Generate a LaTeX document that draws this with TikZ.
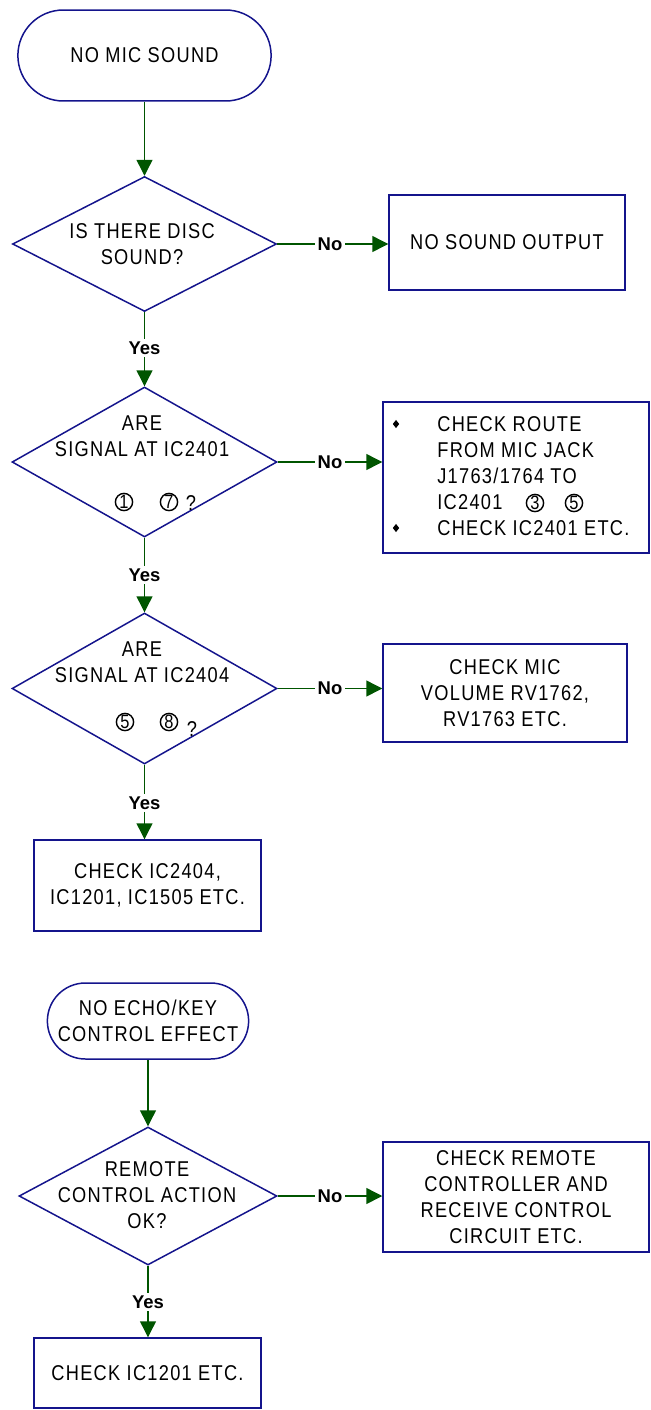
\documentclass[tikz,border=0pt]{standalone}
\usepackage{fontspec}
\setmainfont{Liberation Sans}[FakeStretch=0.85, LetterSpace=6]
\newfontfamily\ansfont{Liberation Sans}
\usepackage{tikz}
\usetikzlibrary{arrows.meta,shapes.geometric,shapes.misc}
\definecolor{flowblue}{RGB}{20,20,140}
\definecolor{flowgreen}{RGB}{0,85,0}
\newcommand\flowfont{\fontsize{12.2}{14.7}\selectfont}

\begin{document}
\begin{tikzpicture}[x=0.02cm,y=0.02cm,
  term/.style={rounded rectangle, draw=flowblue, line width=0.85pt, font=\flowfont, align=center},
  decision/.style={diamond, draw=flowblue, line width=0.85pt, inner sep=0pt},
  action/.style={rectangle, draw=flowblue, line width=0.85pt, font=\flowfont, align=center},
  txt/.style={font=\flowfont, align=center, inner sep=0pt},
  ans/.style={font=\ansfont\bfseries\fontsize{10.5}{12}\selectfont, inner sep=1.5pt},
  cnum/.style={circle, draw, line width=0.8pt, inner sep=0pt, minimum size=9.8pt, font=\fontsize{11}{11}\selectfont},
  bullet/.style={diamond, fill=black, inner sep=0pt, minimum width=3.8pt, minimum height=4.8pt},
  link/.style={draw=flowgreen, line width=0.75pt},
  flow/.style={link, -{Triangle[length=9pt,width=9pt]}}]
\useasboundingbox (0,0) rectangle (650,-1410);

% no mic sound
\node[term, minimum width=5.3cm, minimum height=1.82cm] (t1) at (144.5,-55.5) {NO MIC SOUND};
\node[decision, minimum width=5.28cm, minimum height=2.7cm] (d1) at (144.5,-244) {};
\node[txt] (d1txt) at (142,-244) {IS THERE DISC\\SOUND?};
\node[action, minimum width=4.72cm, minimum height=1.9cm] (b1) at (507,-242.5) {NO SOUND OUTPUT};
\node[ans] (no1) at (330,-244) {No};
\node[ans] (yes1) at (144.5,-348) {Yes};

\node[decision, minimum width=5.3cm, minimum height=3cm] (d2) at (144.5,-462) {};
\node[txt] (d2txt) at (142,-436.5) {ARE\\SIGNAL AT IC2401};
\node[cnum] (d2p1) at (124,-502) {1};
\node[cnum] (d2p7) at (169,-502) {7};
\node[txt] (d2q) at (191,-503) {?};
\node[action, minimum width=5.32cm, minimum height=3.02cm] (b2) at (516,-477.5) {};
\node[txt, anchor=west, align=left] (b2txt) at (437,-476) {CHECK ROUTE\\FROM MIC JACK\\J1763/1764 TO\\IC2401\\CHECK IC2401 ETC.};
\node[cnum] (b2p3) at (535,-503) {3};
\node[cnum] (b2p5) at (574,-503) {5};
\node[bullet] (b2dot1) at (396,-424) {};
\node[bullet] (b2dot2) at (396,-528) {};
\node[ans] (no2) at (330,-462) {No};
\node[ans] (yes2) at (144.5,-575) {Yes};

\node[decision, minimum width=5.3cm, minimum height=3.02cm] (d3) at (144.5,-688.5) {};
\node[txt] (d3txt) at (142,-662.5) {ARE\\SIGNAL AT IC2404};
\node[cnum] (d3p5) at (125,-722) {5};
\node[cnum] (d3p8) at (169,-722) {8};
\node[txt] (d3q) at (192,-729) {?};
\node[action, minimum width=4.88cm, minimum height=1.96cm] (b3) at (505,-693) {CHECK MIC\\VOLUME RV1762,\\RV1763 ETC.};
\node[ans] (no3) at (330,-688.5) {No};
\node[ans] (yes3) at (144.5,-803) {Yes};
\node[action, minimum width=4.54cm, minimum height=1.82cm] (b4) at (147.5,-885.5) {CHECK IC2404,\\IC1201, IC1505 ETC.};

% no echo/key control effect
\node[term, minimum width=4.26cm, minimum height=1.52cm] (t2) at (148,-1021) {NO ECHO/KEY\\CONTROL EFFECT};
\node[decision, minimum width=5.16cm, minimum height=2.76cm] (d4) at (148,-1196) {};
\node[txt] (d4txt) at (147,-1195) {REMOTE\\CONTROL ACTION\\OK?};
\node[action, minimum width=5.32cm, minimum height=2.2cm] (b5) at (516,-1197) {CHECK REMOTE\\CONTROLLER AND\\RECEIVE CONTROL\\CIRCUIT ETC.};
\node[ans] (no4) at (330,-1196) {No};
\node[ans] (yes4) at (148,-1302) {Yes};
\node[action, minimum width=4.54cm, minimum height=1.4cm] (b6) at (147.5,-1373) {CHECK IC1201 ETC.};

% connectors
\draw[flow] (t1.south) -- (d1.north);
\draw[link] (d1.east) -- (no1.west);
\draw[flow] (no1.east) -- (no1.east -| b1.west);
\draw[link] (d1.south) -- (yes1.north);
\draw[flow] (yes1.south) -- (d2.north);
\draw[link] (d2.east) -- (no2.west);
\draw[flow] (no2.east) -- (no2.east -| b2.west);
\draw[link] (d2.south) -- (yes2.north);
\draw[flow] (yes2.south) -- (d3.north);
\draw[link] (d3.east) -- (no3.west);
\draw[flow] (no3.east) -- (no3.east -| b3.west);
\draw[link] (d3.south) -- (yes3.north);
\draw[flow] (yes3.south) -- (yes3.south |- b4.north);

\draw[flow] (t2.south) -- (d4.north);
\draw[link] (d4.east) -- (no4.west);
\draw[flow] (no4.east) -- (no4.east -| b5.west);
\draw[link] (d4.south) -- (yes4.north);
\draw[flow] (yes4.south) -- (yes4.south |- b6.north);
\end{tikzpicture}
\end{document}
